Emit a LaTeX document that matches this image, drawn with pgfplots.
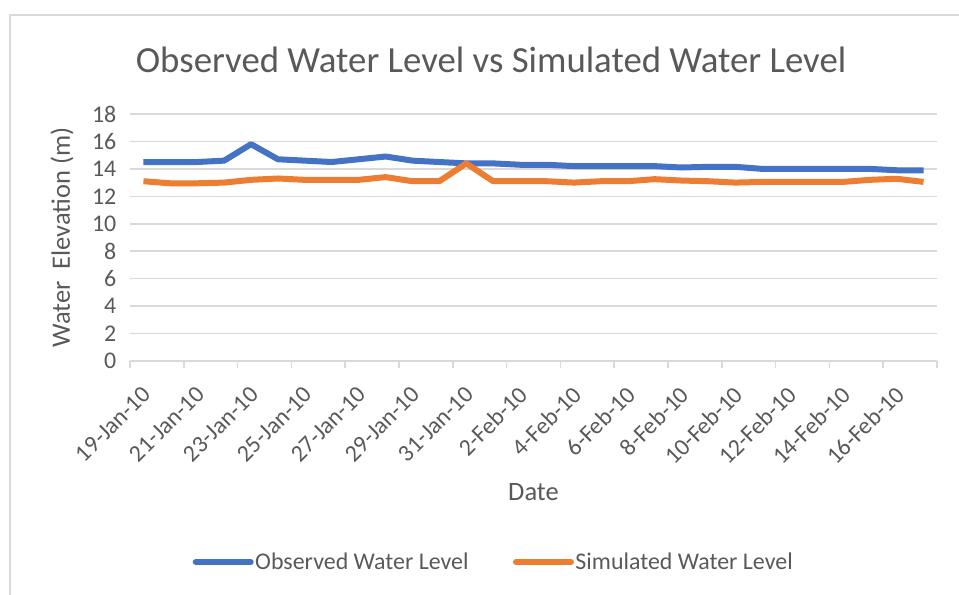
\documentclass[border=0pt]{standalone}
\usepackage{fontspec}
\setmainfont{Carlito}
\usepackage{pgfplots}
\pgfplotsset{compat=1.18}
\definecolor{txt}{HTML}{595959}
\definecolor{gridc}{HTML}{D9D9D9}
\definecolor{obs}{HTML}{4472C4}
\definecolor{sim}{HTML}{ED7D31}
\newcommand{\tickfont}{\fontsize{23.9bp}{28bp}\selectfont}
\newcommand{\labfont}{\fontsize{26.5bp}{31bp}\selectfont}
\newcommand{\titlefont}{\fontsize{36.8bp}{42bp}\selectfont}
\begin{document}
\begin{tikzpicture}[x=1bp,y=1bp]
\useasboundingbox (0,0) rectangle (959,595);
\draw[gridc, line width=2bp] (10,0) -- (10,580) -- (959,580);
\node[anchor=base, text=txt, font=\titlefont, inner sep=0pt] at (491,522) {Observed Water Level vs Simulated Water Level};
\begin{axis}[
  at={(130bp,234bp)}, anchor=south west, scale only axis,
  width=807bp, height=247bp,
  xmin=-0.5, xmax=29.5, ymin=0, ymax=18,
  axis x line*=bottom, axis y line*=left,
  x axis line style={gridc, line width=1.5bp, -},
  y axis line style={draw=none},
  ytick={0,2,...,18},
  ymajorgrids, grid style={gridc, line width=1.5bp},
  ytick style={draw=none},
  xtick={0,2,...,28},
  xticklabels={19-Jan-10,21-Jan-10,23-Jan-10,25-Jan-10,27-Jan-10,29-Jan-10,31-Jan-10,2-Feb-10,4-Feb-10,6-Feb-10,8-Feb-10,10-Feb-10,12-Feb-10,14-Feb-10,16-Feb-10},
  major x tick style={draw=none},
  minor xtick={-0.5,1.5,...,29.5},
  minor x tick style={gridc, line width=1.5bp},
  minor tick length=7bp,
  tick align=outside,
  /pgf/number format/assume math mode=true,
  yticklabel style={font=\tickfont, text=txt, anchor=east, xshift=-6bp},
  xticklabel style={font=\tickfont, text=txt, rotate=45, anchor=east, yshift=-20.2bp, xshift=-12.3bp},
  xlabel={Date},
  xlabel style={font=\labfont, text=txt, at={(axis description cs:0.5,-0.53)}, anchor=center},
  ylabel={Water\ \ Elevation (m)},
  ylabel style={font=\labfont, text=txt, at={(axis description cs:-0.0843,0.5)}, anchor=center},
  legend columns=2,
  legend style={at={(axis description cs:0.4504,-0.8138)}, anchor=center, draw=none, fill=none,
    font=\tickfont, text=txt, nodes={inner sep=1.5bp},
    /tikz/every even column/.append style={column sep=43bp}},
  legend image code/.code={\draw[#1, line cap=round] (0bp,0bp) -- (55bp,0bp);},
  every axis plot/.append style={line width=6bp, line join=round},
]
\addplot[obs, mark=none] coordinates {
(0,14.5)(1,14.5)(2,14.5)(3,14.6)(4,15.8)(5,14.7)(6,14.6)(7,14.5)(8,14.7)(9,14.9)
(10,14.6)(11,14.5)(12,14.4)(13,14.4)(14,14.3)(15,14.3)(16,14.2)(17,14.2)(18,14.2)(19,14.2)
(20,14.1)(21,14.15)(22,14.15)(23,14.0)(24,14.0)(25,14.0)(26,14.0)(27,14.0)(28,13.9)(29,13.9)};
\addlegendentry{Observed Water Level}
\addplot[sim, mark=none] coordinates {
(0,13.1)(1,12.95)(2,12.95)(3,13.0)(4,13.2)(5,13.3)(6,13.2)(7,13.2)(8,13.2)(9,13.4)
(10,13.1)(11,13.1)(12,14.4)(13,13.1)(14,13.1)(15,13.1)(16,13.0)(17,13.1)(18,13.1)(19,13.25)
(20,13.15)(21,13.1)(22,13.0)(23,13.05)(24,13.05)(25,13.05)(26,13.05)(27,13.2)(28,13.28)(29,13.05)};
\addlegendentry{Simulated Water Level}
\end{axis}
\end{tikzpicture}
\end{document}
